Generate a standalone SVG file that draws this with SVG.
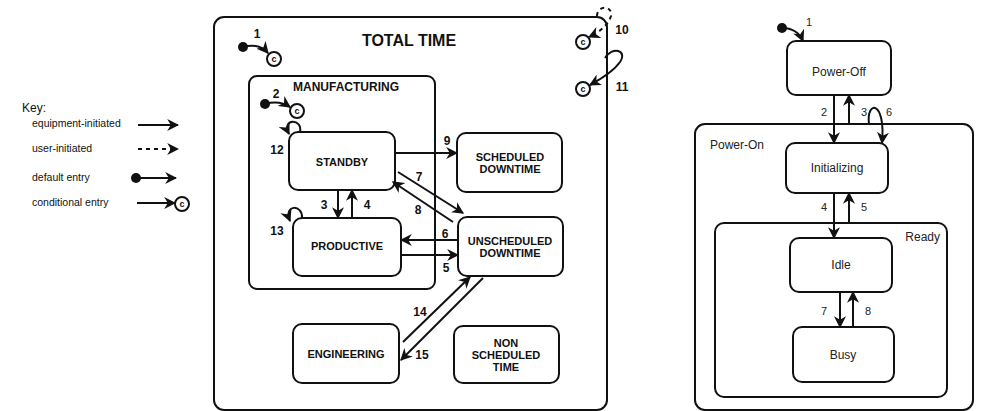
<svg xmlns="http://www.w3.org/2000/svg" width="984" height="411" viewBox="0 0 984 411">
<style>
.box{fill:#fff;stroke:#111;stroke-width:2}
.cont{fill:none;stroke:#111;stroke-width:2}
.ln{fill:none;stroke:#111;stroke-width:2;marker-end:url(#ah)}
.dl{fill:none;stroke:#111;stroke-width:2;stroke-dasharray:4 4;marker-end:url(#ah)}
.b{font-family:"Liberation Sans",Arial,sans-serif;font-weight:bold;font-size:11px;fill:#111;text-anchor:middle}
.n{font-family:"Liberation Sans",Arial,sans-serif;font-weight:bold;font-size:12px;fill:#111;text-anchor:middle}
.k{font-family:"Liberation Sans",Arial,sans-serif;font-size:10.5px;fill:#111}
.r{font-family:"Liberation Sans",Arial,sans-serif;font-size:12px;fill:#222;text-anchor:middle}
.cc{fill:#fff;stroke:#111;stroke-width:2}
.ct{font-family:"Liberation Sans",Arial,sans-serif;font-weight:bold;font-size:9px;fill:#111;text-anchor:middle}
</style>
<defs>
<marker id="ah" viewBox="0 0 10 10" refX="9" refY="5" markerWidth="12" markerHeight="12" markerUnits="userSpaceOnUse" orient="auto"><path d="M0,0 L10,5 L0,10 L3,5 z" fill="#111"/></marker>
</defs>

<g id="key">
<text x="22" y="112" style="font-family:'Liberation Sans',Arial,sans-serif;font-size:12px;fill:#111">Key:</text>
<text x="32" y="127" class="k">equipment-initiated</text>
<line x1="138" y1="125" x2="178" y2="125" class="ln"/>
<text x="32" y="152" class="k">user-initiated</text>
<line x1="138" y1="149" x2="178" y2="149" class="dl"/>
<text x="32" y="181" class="k">default entry</text>
<circle cx="136" cy="178" r="5" fill="#111"/>
<line x1="136" y1="178" x2="176" y2="178" class="ln"/>
<text x="32" y="206" class="k">conditional entry</text>
<line x1="137" y1="203" x2="175" y2="203" class="ln"/>
<circle cx="182" cy="204" r="7" class="cc"/><text x="182" y="207" class="ct">c</text>
</g>

<g id="total-time">
<rect x="214" y="17" width="393" height="393" rx="10" class="cont"/>
<text x="409" y="46" class="b" style="font-size:16px">TOTAL TIME</text>
</g>
<g id="manufacturing">
<rect x="249" y="76" width="186" height="213" rx="8" class="cont"/>
<text x="346" y="91" class="b" style="font-size:12px">MANUFACTURING</text>
</g>

<g id="standby"><rect x="289" y="132" width="106" height="58" rx="9" class="box"/><text x="342" y="166" class="b">STANDBY</text></g>
<g id="productive"><rect x="293" y="218" width="108" height="58" rx="9" class="box"/><text x="347" y="250" class="b">PRODUCTIVE</text></g>
<g id="scheduled-downtime"><rect x="457" y="133" width="105" height="59" rx="9" class="box"/><text x="510" y="161" class="b">SCHEDULED</text><text x="510" y="173" class="b">DOWNTIME</text></g>
<g id="unscheduled-downtime"><rect x="458" y="217" width="105" height="59" rx="9" class="box"/><text x="510" y="245" class="b">UNSCHEDULED</text><text x="510" y="257" class="b">DOWNTIME</text></g>
<g id="engineering"><rect x="293" y="324" width="106" height="59" rx="9" class="box"/><text x="346" y="358" class="b">ENGINEERING</text></g>
<g id="non-scheduled-time"><rect x="454" y="326" width="105" height="57" rx="9" class="box"/><text x="506" y="347" class="b">NON</text><text x="506" y="359" class="b">SCHEDULED</text><text x="506" y="371" class="b">TIME</text></g>

<g id="entry-c1"><circle cx="274" cy="59" r="7" class="cc"/><text x="274" y="62" class="ct">c</text></g>
<g id="entry-c2"><circle cx="297" cy="111" r="7" class="cc"/><text x="297" y="114" class="ct">c</text></g>
<g id="entry-c10"><circle cx="583" cy="42" r="7" class="cc"/><text x="583" y="45" class="ct">c</text></g>
<g id="entry-c11"><circle cx="583" cy="89" r="7" class="cc"/><text x="583" y="92" class="ct">c</text></g>

<g id="power-on">
<rect x="695" y="124" width="278" height="286" rx="10" class="cont"/>
<text x="710" y="149" class="r" style="text-anchor:start">Power-On</text>
</g>
<g id="ready">
<rect x="715" y="223" width="232" height="174" rx="9" class="cont"/>
<text x="940" y="241" class="r" style="text-anchor:end">Ready</text>
</g>
<g id="power-off"><rect x="787" y="41" width="104" height="54" rx="9" class="box"/><text x="839" y="76" class="r">Power-Off</text></g>
<g id="initializing"><rect x="786" y="143" width="102" height="50" rx="9" class="box"/><text x="837" y="172" class="r">Initializing</text></g>
<g id="idle"><rect x="790" y="238" width="102" height="54" rx="9" class="box"/><text x="841" y="269" class="r">Idle</text></g>
<g id="busy"><rect x="793" y="327" width="101" height="55" rx="9" class="box"/><text x="843" y="359" class="r">Busy</text></g>

<g id="connectors">
<circle cx="243" cy="47" r="5" fill="#111"/>
<path d="M243 47 C254 44 262 46 268 53" class="ln"/>
<circle cx="265" cy="104" r="5" fill="#111"/>
<path d="M265 104 C276 101 284 103 290 107" class="ln"/>
<path d="M300 132 C303 118 281 118 289 134" class="ln"/>
<path d="M302 218 C303 204 283 204 290 221" class="ln"/>
<line x1="338" y1="190" x2="338" y2="218" class="ln"/>
<line x1="352" y1="218" x2="352" y2="190" class="ln"/>
<line x1="395" y1="153" x2="457" y2="153" class="ln"/>
<line x1="398" y1="172" x2="463" y2="213" class="ln"/>
<line x1="453" y1="222" x2="393" y2="182" class="ln"/>
<line x1="458" y1="240" x2="401" y2="240" class="ln"/>
<line x1="401" y1="255" x2="458" y2="255" class="ln"/>
<line x1="403" y1="342" x2="470" y2="277" class="ln"/>
<line x1="483" y1="278" x2="401" y2="360" class="ln"/>
<path d="M597 16 C597 5 613 5 611 16 C608 25 600 32 589 37" class="dl"/>
<path d="M605 58 C612 46 628 50 620 62 C613 72 601 79 590 85" class="ln"/>

<circle cx="782" cy="28" r="5" fill="#111"/>
<path d="M782 28 C792 28 799 32 803 41" class="ln"/>
<line x1="834" y1="95" x2="834" y2="143" class="ln"/>
<line x1="849" y1="124" x2="849" y2="95" class="ln"/>
<path d="M869 124 C866 100 886 100 882 143" class="ln"/>
<line x1="834" y1="193" x2="834" y2="238" class="ln"/>
<line x1="849" y1="223" x2="849" y2="193" class="ln"/>
<line x1="840" y1="292" x2="840" y2="327" class="ln"/>
<line x1="853" y1="327" x2="853" y2="292" class="ln"/>
</g>

<g id="labels">
<text x="257" y="38" class="n">1</text>
<text x="276" y="98" class="n">2</text>
<text x="324" y="209" class="n">3</text>
<text x="367" y="209" class="n">4</text>
<text x="446" y="272" class="n">5</text>
<text x="445" y="238" class="n">6</text>
<text x="419" y="181" class="n">7</text>
<text x="418" y="214" class="n">8</text>
<text x="447" y="145" class="n">9</text>
<text x="622" y="34" class="n">10</text>
<text x="622" y="91" class="n">11</text>
<text x="277" y="154" class="n">12</text>
<text x="277" y="235" class="n">13</text>
<text x="420" y="316" class="n">14</text>
<text x="422" y="359" class="n">15</text>
<text x="809" y="26" class="r" style="font-size:11px">1</text>
<text x="824" y="116" class="r" style="font-size:11px">2</text>
<text x="864" y="116" class="r" style="font-size:11px">3</text>
<text x="889" y="116" class="r" style="font-size:11px">6</text>
<text x="824" y="211" class="r" style="font-size:11px">4</text>
<text x="864" y="211" class="r" style="font-size:11px">5</text>
<text x="824" y="315" class="r" style="font-size:11px">7</text>
<text x="868" y="315" class="r" style="font-size:11px">8</text>
</g>
</svg>
